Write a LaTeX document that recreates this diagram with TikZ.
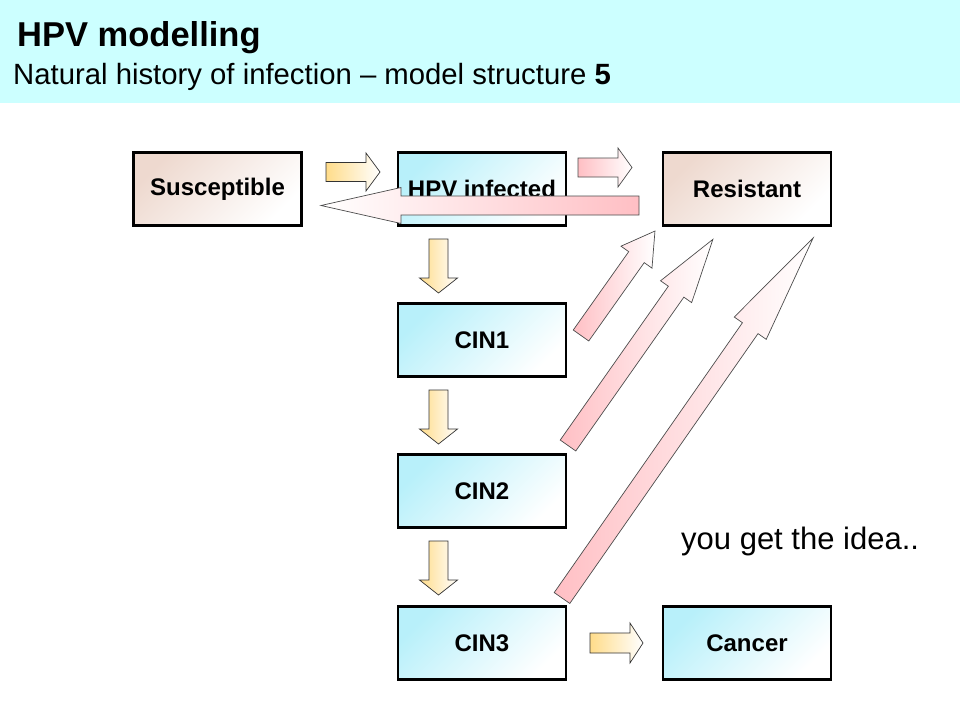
\documentclass[tikz,border=0pt]{standalone}
\usepackage{fontspec}
\setmainfont{Liberation Sans}
\definecolor{band}{HTML}{CCFFFF}
\definecolor{cyanbox}{HTML}{B8F0FA}
\definecolor{peach}{HTML}{EED9CF}
\definecolor{ylw}{HTML}{FFDC8A}
\definecolor{pnk}{HTML}{FFBFC4}
% #1 start, #2 angle, #3 length, #4 half shaft, #5 half head, #6 head length, #7 style
\newcommand\blockarr[7]{\shade[#7,shift={(#1)},rotate=#2] (0,-#4) -- ({#3-#6},-#4) -- ({#3-#6},-#5) -- (#3,0) -- ({#3-#6},#5) -- ({#3-#6},#4) -- (0,#4) -- cycle;}
\tikzset{
  box/.style={draw=black, line width=2.8pt, minimum width=168pt, minimum height=73pt,
    font=\fontsize{24}{28}\selectfont\bfseries, inner sep=0pt, outer sep=0pt},
  cbox/.style={box, top color=cyanbox, bottom color=white, shading angle=45},
  pbox/.style={box, top color=peach, bottom color=white, shading angle=45},
  yarr/.style={draw=black!80, line width=0.7pt, left color=ylw, right color=white},
  parr/.style={draw=black!70, line width=0.7pt, left color=pnk, right color=white},
  parrback/.style={draw=black!70, line width=0.7pt, left color=white, right color=pnk},
}
\begin{document}
\begin{tikzpicture}[x=1pt,y=-1pt]
\useasboundingbox (0,0) rectangle (960,720);
\fill[white] (0,0) rectangle (960,720);
\fill[band] (0,0) rectangle (960,103);
\node[anchor=base west, inner sep=0pt, font=\fontsize{34.5}{39}\selectfont\bfseries] (title) at (17,46) {HPV modelling};
\node[anchor=base west, inner sep=0pt, font=\fontsize{29.3}{33}\selectfont] (sub) at (13,84) {Natural history of infection -- model structure \textbf{5}};

\node[pbox] (sus) at (217.5,189) {Susceptible};
\node[cbox] (hpv) at (482,189) {HPV infected};
\node[pbox] (res) at (747,189) {Resistant};
\node[cbox] (cin1) at (482,340) {CIN1};
\node[cbox] (cin2) at (482,491) {CIN2};
\node[cbox] (cin3) at (482,643) {CIN3};
\node[cbox] (can) at (747,643) {Cancer};

% horizontal arrows
\blockarr{326,172}{0}{54}{9.5}{19}{14}{yarr}
\blockarr{578,167.5}{0}{54}{9.5}{19.5}{14}{parr}
\blockarr{590,643}{0}{53}{10}{20}{13}{yarr}
% back arrow
\blockarr{639,205.5}{180}{318}{9.5}{18}{80}{parrback}
% down arrows
\blockarr{438.5,239}{-90}{54}{9.5}{19}{15}{yarr}
\blockarr{438.5,390}{-90}{54}{9.5}{19}{15}{yarr}
\blockarr{438.5,541}{-90}{54}{9.5}{19}{15}{yarr}
% diagonal arrows
\blockarr{581,335.5}{54.7}{128}{9.5}{19}{32}{parr}
\blockarr{568,445.5}{54.9}{252}{9.5}{19}{64}{parr}
\blockarr{562,598}{55.1}{439}{9.5}{19.5}{110}{parr}

\node[anchor=base west, inner sep=0pt, font=\fontsize{31}{35}\selectfont] (idea) at (681,549) {you get the idea..};
\end{tikzpicture}
\end{document}
